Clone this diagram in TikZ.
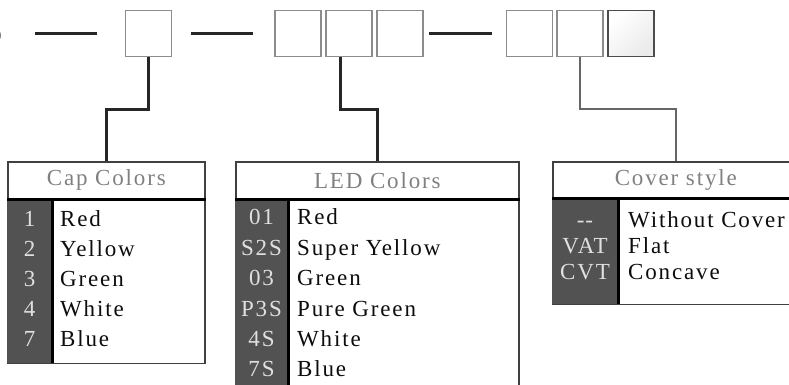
\documentclass[tikz,border=0pt]{standalone}
\usepackage{fontspec}
\setmainfont{Liberation Serif}[LetterSpace=8]
\usetikzlibrary{positioning}

\begin{document}
\begin{tikzpicture}[
  x=1pt, y=-1pt,
  cell/.style={draw=black!45, line width=1.8pt, minimum size=46pt, inner sep=0pt, fill=white},
  sep/.style={line width=3pt, black!85},
  link/.style={line width=3pt, black!85},
  thinlink/.style={line width=2pt, black!60},
  tabhead/.style={draw=black!75, line width=1.6pt, inner sep=0pt, anchor=north west,
                  font=\fontsize{23}{30}\selectfont, text=black!50},
  tabbody/.style={draw=black!75, line width=1.6pt, inner sep=0pt, anchor=north west, fill=white},
  tabkey/.style={fill=black!68, inner sep=0pt, anchor=north west},
  rule/.style={line width=3pt, black},
  keytxt/.style={anchor=base, inner sep=0pt, font=\fontsize{23}{30}\selectfont, text=black!12},
  valtxt/.style={anchor=base west, inner sep=0pt, font=\fontsize{23}{30}\selectfont, text=black!95},
]
\useasboundingbox (0,0) rectangle (789,384);

% part number
\node[anchor=east, inner sep=0pt, font=\fontsize{40}{40}\selectfont, text=black!70] (pre) at (4,30) {S};
\node[cell] (cap) at (148.5,33.5) {};
\node[cell] (led1) at (298,33.5) {};
\node[cell, right=3pt of led1] (led2) {};
\node[cell, right=3pt of led2] (led3) {};
\node[cell] (cov1) at (529.5,33.5) {};
\node[cell, right=3pt of cov1] (cov2) {};
\node[cell, right=3pt of cov2, draw=black!70, left color=white, right color=black!8, shading angle=45] (cov3) {};

\coordinate (d1a) at (35,33);  \coordinate (d1b) at (97,33);
\coordinate (d2a) at (191,33); \coordinate (d2b) at (253,33);
\coordinate (d3a) at (429,33); \coordinate (d3b) at (492,33);
\draw[sep] (d1a) -- (d1b);
\draw[sep] (d2a) -- (d2b);
\draw[sep] (d3a) -- (d3b);

% cap colors
\node[tabhead, minimum width=197pt, minimum height=37pt] (caphead) at (7,161) {Cap Colors};
\node[tabbody, minimum width=197pt, minimum height=163pt] (capbody) at (caphead.south west) {};
\node[tabkey, minimum width=45pt, minimum height=163pt] (capkey) at (capbody.north west) {};
\draw[rule] (capbody.north west) -- (capbody.north east);
\draw[rule] (capkey.north east) -- (capkey.south east);
\foreach \k/\t [count=\i] in {1/Red, 2/Yellow, 3/Green, 4/White, 7/Blue} {
  \node[keytxt] (capk\i) at (29.5,196+30*\i) {\k};
  \node[valtxt] (capv\i) at (60,196+30*\i) {\t};
}

% led colors
\node[tabhead, minimum width=283pt, minimum height=37pt] (ledhead) at (235,161) {LED Colors};
\node[tabbody, minimum width=283pt, minimum height=210pt] (ledbody) at (ledhead.south west) {};
\node[tabkey, minimum width=53pt, minimum height=210pt] (ledkey) at (ledbody.north west) {};
\draw[rule] (ledbody.north west) -- (ledbody.north east);
\draw[rule] (ledkey.north east) -- (ledkey.south east);
\foreach \k/\t [count=\i] in {01/Red, S2S/Super Yellow, 03/Green, P3S/Pure Green, 4S/White, 7S/Blue} {
  \node[keytxt] (ledk\i) at (261.5,194.5+30.4*\i) {\k};
  \node[valtxt] (ledv\i) at (297,194.5+30.4*\i) {\t};
}

% cover style
\node[tabhead, minimum width=246pt, minimum height=36pt] (covhead) at (552,161) {Cover style};
\node[tabbody, minimum width=246pt, minimum height=105pt] (covbody) at (covhead.south west) {};
\node[tabkey, minimum width=66pt, minimum height=105pt] (covkey) at (covbody.north west) {};
\draw[rule] (covbody.north west) -- (covbody.north east);
\draw[rule] (covkey.north east) -- (covkey.south east);
\foreach \k/\t/\y [count=\i] in {{-\kern1pt-}/Without Cover/227, VAT/Flat/253, CVT/Concave/279} {
  \node[keytxt] (covk\i) at (585,\y) {\k};
  \node[valtxt] (covv\i) at (628,\y) {\t};
}

% connectors
\draw[link] (cap.south) -- ++(0,52) -| (caphead.north);
\draw[link] ([xshift=-8pt]led2.south) -- ++(0,52) -| (ledhead.north);
\draw[thinlink] (cov2.south) -- ++(0,52) -| (covhead.north);
\end{tikzpicture}
\end{document}
